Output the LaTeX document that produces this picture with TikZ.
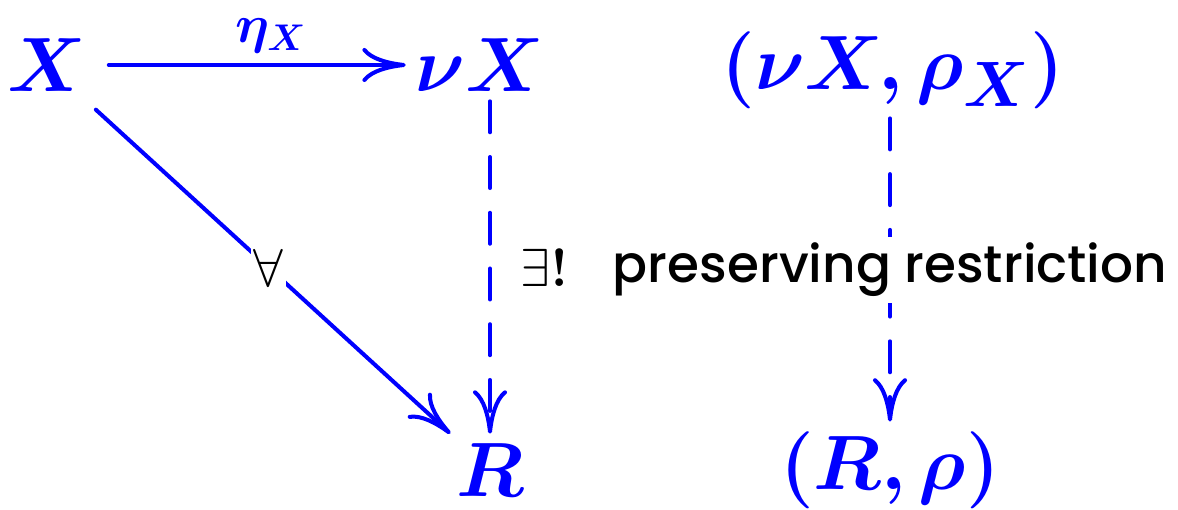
\documentclass[tikz,border=0pt]{standalone}
\usepackage{amsmath,bm}
\usepackage{fontspec}
\newfontfamily\handfont{Poppins}[UprightFont=* Medium]
\usetikzlibrary{arrows.meta}
\definecolor{diagblue}{RGB}{0,0,255}

\begin{document}
\begin{tikzpicture}[x=0.323pt, y=-0.323pt,
    obj/.style={text=diagblue, font=\Huge, inner sep=3pt},
    map/.style={diagblue, line width=1.3pt, line cap=round,
      -{Computer Modern Rightarrow[length=14pt,width=11pt]}},
    dmap/.style={map, dash pattern=on 10pt off 8pt}]
  \useasboundingbox (0,0) rectangle (1178,510);
  %% universal property
  \node[obj] (X)   at (47,65)   {$\bm{X}$};
  \node[obj] (nuX) at (480,65)  {$\bm{\nu X}$};
  \node[obj] (R)   at (490,470) {$\bm{R}$};
  \draw[map, shorten <=4pt] (X) -- (nuX)
    node[midway, above=0pt, xshift=6.5pt, text=diagblue, font=\LARGE] {$\bm{\eta_X}$};
  \draw[map, shorten <=4pt] (X) -- (R)
    node[midway, fill=white, text=black, font=\LARGE, inner sep=1pt] {$\forall$};
  \draw[dmap] (nuX.south -| R) -- (R)
    node[midway, right=6pt, text=black, font=\LARGE] {$\exists\bm{!}$};
  %% with restriction
  \node[obj] (nuXr) at (893,70)  {$\bm{(\nu X, \rho_X)}$};
  \node[obj] (Rr)   at (890,470) {$\bm{(R, \rho)}$};
  \draw[dmap] (nuXr.south -| Rr) -- (Rr)
    node[midway, fill=white, text=black, font=\handfont\fontsize{16.7}{20}\selectfont,
      inner sep=2pt] {preserving restriction};
\end{tikzpicture}
\end{document}
